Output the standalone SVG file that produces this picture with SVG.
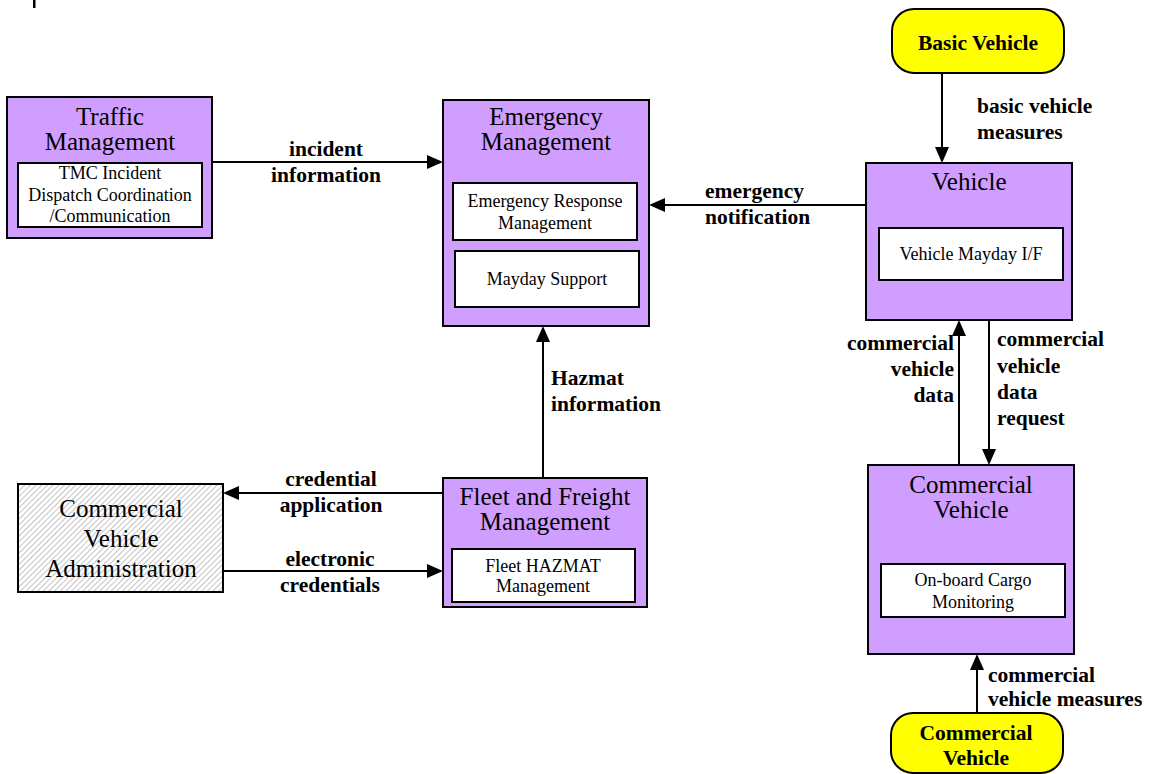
<svg xmlns="http://www.w3.org/2000/svg" width="1149" height="774" viewBox="0 0 1149 774">
  <style>
    .box { fill: #D09EFF; stroke: #000; stroke-width: 2; }
    .inner { fill: #fff; stroke: #000; stroke-width: 2; }
    .term { fill: #FFFF00; stroke: #000; stroke-width: 2; }
    .title { font-family: "Liberation Serif", "Times New Roman", serif; font-size: 25px; fill: #000; text-anchor: middle; }
    .sub { font-family: "Liberation Serif", "Times New Roman", serif; font-size: 18px; fill: #000; text-anchor: middle; }
    .lbl { font-family: "Liberation Serif", "Times New Roman", serif; font-size: 21.5px; font-weight: bold; fill: #000; }
    .termtxt { font-family: "Liberation Serif", "Times New Roman", serif; font-size: 21.5px; font-weight: bold; fill: #000; text-anchor: middle; }
    .flow { stroke: #000; stroke-width: 2; fill: none; marker-end: url(#arrow); }
  </style>
  <defs>
    <marker id="arrow" markerUnits="userSpaceOnUse" markerWidth="16" markerHeight="14" viewBox="0 0 16 14" refX="8" refY="7" orient="auto">
      <path d="M0,0 L16,7 L0,14 Z" fill="#000"/>
    </marker>
    <pattern id="hatch" patternUnits="userSpaceOnUse" width="4" height="4" patternTransform="rotate(45)">
      <rect width="4" height="4" fill="#fff"/>
      <line x1="0" y1="0" x2="0" y2="4" stroke="#b4b4b4" stroke-width="1.6"/>
    </pattern>
  </defs>

  <rect x="0" y="0" width="1149" height="774" fill="#fff"/>
  <!-- stray mark at top-left edge -->
  <rect x="33" y="0" width="2.5" height="8" fill="#000"/>

  <g id="connectors">
    <line class="flow" x1="212" y1="162" x2="435" y2="162"/>
    <line class="flow" x1="866" y1="205" x2="657" y2="205"/>
    <line class="flow" x1="942" y1="73" x2="942" y2="155"/>
    <line class="flow" x1="959" y1="465" x2="959" y2="328"/>
    <line class="flow" x1="989" y1="320" x2="989" y2="457"/>
    <line class="flow" x1="977" y1="713" x2="977" y2="662"/>
    <line class="flow" x1="543" y1="478" x2="543" y2="334"/>
    <line class="flow" x1="443" y1="493" x2="231" y2="493"/>
    <line class="flow" x1="223" y1="571" x2="435" y2="571"/>

    <text class="lbl" text-anchor="middle"><tspan x="326" y="156">incident</tspan><tspan x="326" y="182">information</tspan></text>
    <text class="lbl"><tspan x="705" y="198">emergency</tspan><tspan x="705" y="223.5">notification</tspan></text>
    <text class="lbl"><tspan x="977" y="113">basic vehicle</tspan><tspan x="977" y="138.5">measures</tspan></text>
    <text class="lbl" text-anchor="end"><tspan x="954" y="349.5">commercial</tspan><tspan x="954" y="376">vehicle</tspan><tspan x="954" y="402">data</tspan></text>
    <text class="lbl"><tspan x="997" y="346">commercial</tspan><tspan x="997" y="372.5">vehicle</tspan><tspan x="997" y="399">data</tspan><tspan x="997" y="425">request</tspan></text>
    <text class="lbl"><tspan x="988" y="681.5">commercial</tspan><tspan x="988" y="705.5">vehicle measures</tspan></text>
    <text class="lbl"><tspan x="551" y="385">Hazmat</tspan><tspan x="551" y="411">information</tspan></text>
    <text class="lbl" text-anchor="middle"><tspan x="331" y="486">credential</tspan><tspan x="331" y="512">application</tspan></text>
    <text class="lbl" text-anchor="middle"><tspan x="330" y="566">electronic</tspan><tspan x="330" y="592">credentials</tspan></text>
  </g>

  <g id="traffic-management">
    <rect class="box" x="7" y="97" width="205" height="141"/>
    <text class="title"><tspan x="110" y="124.5">Traffic</tspan><tspan x="110" y="149.5">Management</tspan></text>
    <rect class="inner" x="18" y="163" width="184" height="64"/>
    <text class="sub"><tspan x="110" y="179">TMC Incident</tspan><tspan x="110" y="200.5">Dispatch Coordination</tspan><tspan x="110" y="222">/Communication</tspan></text>
  </g>

  <g id="emergency-management">
    <rect class="box" x="443" y="100" width="206" height="226"/>
    <text class="title"><tspan x="546" y="125">Emergency</tspan><tspan x="546" y="150">Management</tspan></text>
    <rect class="inner" x="453" y="183" width="184" height="57"/>
    <text class="sub"><tspan x="545" y="207">Emergency Response</tspan><tspan x="545" y="228.5">Management</tspan></text>
    <rect class="inner" x="455" y="251" width="184" height="56"/>
    <text class="sub" x="547" y="285">Mayday Support</text>
  </g>

  <g id="basic-vehicle">
    <rect class="term" x="892" y="9" width="172" height="64" rx="22" ry="22"/>
    <text class="termtxt" x="978" y="50">Basic Vehicle</text>
  </g>

  <g id="vehicle">
    <rect class="box" x="866" y="163" width="206" height="157"/>
    <text class="title" x="969" y="190">Vehicle</text>
    <rect class="inner" x="879" y="228" width="184" height="52"/>
    <text class="sub" x="971" y="260">Vehicle Mayday I/F</text>
  </g>

  <g id="commercial-vehicle">
    <rect class="box" x="868" y="465" width="206" height="189"/>
    <text class="title"><tspan x="971" y="492.5">Commercial</tspan><tspan x="971" y="517.5">Vehicle</tspan></text>
    <rect class="inner" x="881" y="564" width="184" height="53"/>
    <text class="sub"><tspan x="973" y="586">On-board Cargo</tspan><tspan x="973" y="607.5">Monitoring</tspan></text>
  </g>

  <g id="commercial-vehicle-terminator">
    <rect class="term" x="891" y="713" width="172" height="60" rx="22" ry="22"/>
    <text class="termtxt"><tspan x="976" y="740">Commercial</tspan><tspan x="976" y="765">Vehicle</tspan></text>
  </g>

  <g id="fleet-freight-management">
    <rect class="box" x="443" y="478" width="204" height="129"/>
    <text class="title"><tspan x="545" y="505">Fleet and Freight</tspan><tspan x="545" y="530">Management</tspan></text>
    <rect class="inner" x="452" y="549" width="183" height="53"/>
    <text class="sub"><tspan x="543" y="571.5">Fleet HAZMAT</tspan><tspan x="543" y="592">Management</tspan></text>
  </g>

  <g id="commercial-vehicle-administration">
    <rect x="18" y="484" width="205" height="108" fill="url(#hatch)" stroke="#000" stroke-width="2"/>
    <text class="title"><tspan x="121" y="517">Commercial</tspan><tspan x="121" y="547">Vehicle</tspan><tspan x="121" y="577">Administration</tspan></text>
  </g>
</svg>
